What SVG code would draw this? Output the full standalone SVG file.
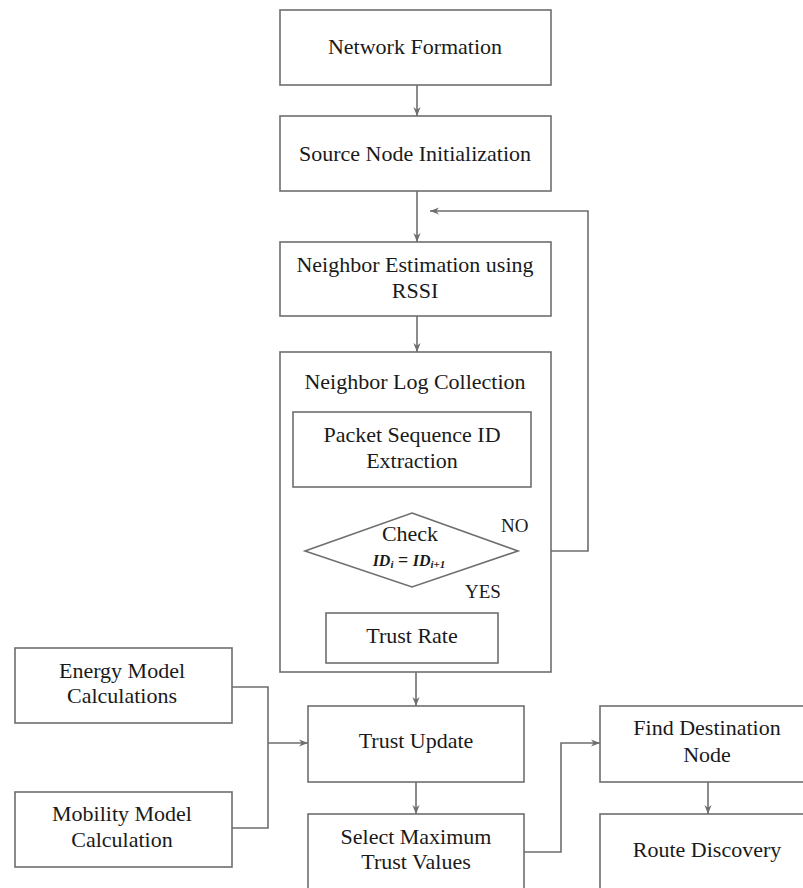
<svg xmlns="http://www.w3.org/2000/svg" width="803" height="888" viewBox="0 0 803 888" font-family="'Liberation Serif', 'DejaVu Serif', serif">
<style>
.box{fill:#fff;stroke:#6e6e6e;stroke-width:1.6}
text{font-family:'Liberation Serif','DejaVu Serif',serif;fill:#1a1a1a}
.t{font-size:22px;text-anchor:middle}
.lbl{font-size:19px}
.c{fill:none;stroke:#6e6e6e;stroke-width:1.6}
.m{font-size:16px;font-style:italic;font-weight:bold;text-anchor:middle}
</style>
<defs>
<marker id="ah" viewBox="0 0 10 10" refX="10" refY="5" markerWidth="9" markerHeight="9" markerUnits="userSpaceOnUse" orient="auto">
<path d="M0,1 L10,5 L0,9 L3,5 Z" fill="#6e6e6e"/>
</marker>
</defs>
<rect width="803" height="888" fill="#fff"/>
<g id="connectors">
<line class="c" x1="417" y1="85" x2="417" y2="116" marker-end="url(#ah)"/>
<line class="c" x1="417" y1="191" x2="417" y2="242" marker-end="url(#ah)"/>
<line class="c" x1="417" y1="316" x2="417" y2="352" marker-end="url(#ah)"/>
<line class="c" x1="412" y1="487" x2="412" y2="513" marker-end="url(#ah)"/>
<line class="c" x1="412" y1="587" x2="412" y2="613" marker-end="url(#ah)"/>
<polyline class="c" points="518,551 588,551 588,211 430,211" marker-end="url(#ah)"/>
<line class="c" x1="416" y1="672" x2="416" y2="706" marker-end="url(#ah)"/>
<polyline class="c" points="232,687 268,687 268,828 232,828"/>
<line class="c" x1="268" y1="743" x2="308" y2="743" marker-end="url(#ah)"/>
<line class="c" x1="416" y1="782" x2="416" y2="814" marker-end="url(#ah)"/>
<polyline class="c" points="524,852 561,852 561,743 600,743" marker-end="url(#ah)"/>
<line class="c" x1="708" y1="782" x2="708" y2="814" marker-end="url(#ah)"/>
</g>
<g id="network-formation">
<rect class="box" x="280" y="10" width="271" height="75"/>
<text class="t" x="415" y="54">Network Formation</text>
</g>
<g id="source-node-init">
<rect class="box" x="280" y="116" width="271" height="75"/>
<text class="t" x="415" y="161">Source Node Initialization</text>
</g>
<g id="neighbor-estimation">
<rect class="box" x="280" y="242" width="271" height="74"/>
<text class="t" x="415" y="272">Neighbor Estimation using</text>
<text class="t" x="415" y="298">RSSI</text>
</g>
<g id="neighbor-log-collection">
<rect class="box" x="280" y="352" width="271" height="320"/>
<text class="t" x="415" y="389">Neighbor Log Collection</text>
</g>
<g id="packet-sequence">
<rect class="box" x="293" y="412" width="238" height="75"/>
<text class="t" x="412" y="442">Packet Sequence ID</text>
<text class="t" x="412" y="468">Extraction</text>
</g>
<g id="check">
<polygon class="box" points="412,513 518,551 412,587 305,551"/>
<text class="t" x="410" y="541">Check</text>
<text class="m" x="409" y="566">ID<tspan font-size="11" dy="2">i</tspan><tspan dy="-2" font-style="normal" font-size="18"> = </tspan>ID<tspan font-size="11" dy="2">i+1</tspan></text>
<text class="lbl" x="501" y="532">NO</text>
<text class="lbl" x="465" y="598">YES</text>
</g>
<g id="trust-rate">
<rect class="box" x="326" y="613" width="172" height="50"/>
<text class="t" x="412" y="643">Trust Rate</text>
</g>
<g id="energy-model">
<rect class="box" x="15" y="648" width="217" height="75"/>
<text class="t" x="122" y="678">Energy Model</text>
<text class="t" x="122" y="703">Calculations</text>
</g>
<g id="mobility-model">
<rect class="box" x="15" y="792" width="217" height="75"/>
<text class="t" x="122" y="821">Mobility Model</text>
<text class="t" x="122" y="847">Calculation</text>
</g>
<g id="trust-update">
<rect class="box" x="308" y="706" width="216" height="76"/>
<text class="t" x="416" y="748">Trust Update</text>
</g>
<g id="select-max">
<rect class="box" x="308" y="814" width="216" height="78"/>
<text class="t" x="416" y="844">Select Maximum</text>
<text class="t" x="416" y="869">Trust Values</text>
</g>
<g id="find-destination">
<rect class="box" x="600" y="706" width="216" height="76"/>
<text class="t" x="707" y="735">Find Destination</text>
<text class="t" x="707" y="762">Node</text>
</g>
<g id="route-discovery">
<rect class="box" x="600" y="814" width="216" height="78"/>
<text class="t" x="707" y="857">Route Discovery</text>
</g>
</svg>
